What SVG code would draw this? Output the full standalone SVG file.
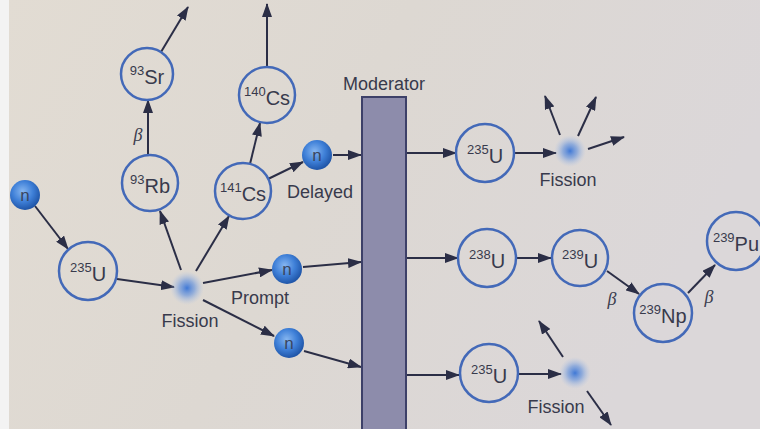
<svg xmlns="http://www.w3.org/2000/svg" width="760" height="429" viewBox="0 0 760 429">
<defs>
<linearGradient id="bg" x1="0" y1="0" x2="1" y2="0.3">
<stop offset="0" stop-color="#e2dcd3"/>
<stop offset="0.5" stop-color="#ddd8d2"/>
<stop offset="1" stop-color="#dbd7d9"/>
</linearGradient>
<radialGradient id="nGrad" cx="0.42" cy="0.38" r="0.62">
<stop offset="0" stop-color="#86b6f0"/>
<stop offset="0.55" stop-color="#3f80d8"/>
<stop offset="1" stop-color="#1f55a8"/>
</radialGradient>
<radialGradient id="fGrad" cx="0.5" cy="0.5" r="0.5">
<stop offset="0" stop-color="#3f78d6" stop-opacity="1"/>
<stop offset="0.45" stop-color="#7099dc" stop-opacity="0.7"/>
<stop offset="1" stop-color="#b0c4e6" stop-opacity="0"/>
</radialGradient>
<marker id="ah" markerWidth="14" markerHeight="10" refX="13" refY="5" orient="auto" markerUnits="userSpaceOnUse">
<path d="M0,0 L14,5 L0,10 z" fill="#2b2e46"/>
</marker>
</defs>
<style>
.nuc{fill:none;stroke:#4369b8;stroke-width:2.5}
.neu{fill:url(#nGrad)}
.fis{fill:url(#fGrad)}
.t{font-family:"Liberation Sans",Arial,sans-serif;fill:#383a4c}
.lbl{font-size:18px}
.el{font-size:20px}
.sup{font-size:13px}
.nt{font-family:"Liberation Sans",Arial,sans-serif;font-size:17px;fill:#3a4660}
.beta{font-family:"Liberation Serif","Times New Roman",serif;font-style:italic;font-size:18px;fill:#3a3c4e}
.c{stroke:#2b2e46;stroke-width:2;fill:none;marker-end:url(#ah)}
</style>
<rect x="0" y="0" width="760" height="429" fill="url(#bg)"/>
<rect x="0" y="0" width="9" height="429" fill="#f3f3f3"/>

<g id="connectors">
<line class="c" x1="35" y1="206" x2="68" y2="249"/>
<line class="c" x1="117" y1="279" x2="174" y2="287"/>
<line class="c" x1="181" y1="270" x2="160" y2="211"/>
<line class="c" x1="196" y1="271" x2="229" y2="216"/>
<line class="c" x1="203" y1="283" x2="272" y2="270"/>
<line class="c" x1="203" y1="300" x2="274" y2="336"/>
<line class="c" x1="148" y1="155" x2="148" y2="100"/>
<line class="c" x1="161" y1="52" x2="188" y2="7"/>
<line class="c" x1="250" y1="164" x2="260" y2="123"/>
<line class="c" x1="267" y1="67" x2="267" y2="4"/>
<line class="c" x1="268" y1="179" x2="303" y2="162"/>
<line class="c" x1="333" y1="155" x2="361" y2="155"/>
<line class="c" x1="303" y1="267" x2="361" y2="262"/>
<line class="c" x1="304" y1="351" x2="361" y2="367"/>
<line class="c" x1="406" y1="153" x2="456" y2="153"/>
<line class="c" x1="514" y1="153" x2="556" y2="153"/>
<line class="c" x1="560" y1="135" x2="545" y2="96"/>
<line class="c" x1="578" y1="136" x2="596" y2="97"/>
<line class="c" x1="588" y1="149" x2="624" y2="137"/>
<line class="c" x1="406" y1="258" x2="458" y2="258"/>
<line class="c" x1="516" y1="258" x2="551" y2="258"/>
<line class="c" x1="607" y1="271" x2="639" y2="294"/>
<line class="c" x1="688" y1="293" x2="715" y2="265"/>
<line class="c" x1="406" y1="375" x2="459" y2="375"/>
<line class="c" x1="518" y1="374" x2="561" y2="374"/>
<line class="c" x1="563" y1="357" x2="539" y2="321"/>
<line class="c" x1="587" y1="391" x2="611" y2="425"/>
</g>

<g id="n-in">
<circle class="neu" cx="25" cy="195" r="15"/>
<text class="nt" x="25" y="201" text-anchor="middle">n</text>
</g>
<g id="u235-a">
<circle class="nuc" cx="88" cy="271" r="29"/>
<text class="t" x="88" y="281" text-anchor="middle"><tspan class="sup" dy="-9">235</tspan><tspan class="el" dy="9">U</tspan></text>
</g>
<g id="fission-a">
<circle class="fis" cx="187" cy="288" r="17"/>
<text class="t lbl" x="190" y="327" text-anchor="middle">Fission</text>
</g>
<g id="rb93">
<circle class="nuc" cx="150" cy="183" r="28"/>
<text class="t" x="150" y="193" text-anchor="middle"><tspan class="sup" dy="-9">93</tspan><tspan class="el" dy="9">Rb</tspan></text>
</g>
<g id="beta-1"><text class="beta" x="138" y="141" text-anchor="middle">β</text></g>
<g id="sr93">
<circle class="nuc" cx="147" cy="74" r="26"/>
<text class="t" x="147" y="84" text-anchor="middle"><tspan class="sup" dy="-9">93</tspan><tspan class="el" dy="9">Sr</tspan></text>
</g>
<g id="cs141">
<circle class="nuc" cx="243" cy="191" r="28"/>
<text class="t" x="243" y="201" text-anchor="middle"><tspan class="sup" dy="-9">141</tspan><tspan class="el" dy="9">Cs</tspan></text>
</g>
<g id="cs140">
<circle class="nuc" cx="267" cy="95" r="28"/>
<text class="t" x="267" y="105" text-anchor="middle"><tspan class="sup" dy="-9">140</tspan><tspan class="el" dy="9">Cs</tspan></text>
</g>
<g id="n-delayed">
<circle class="neu" cx="317" cy="155" r="15"/>
<text class="nt" x="317" y="161" text-anchor="middle">n</text>
<text class="t lbl" x="320" y="198" text-anchor="middle">Delayed</text>
</g>
<g id="n-prompt">
<circle class="neu" cx="287" cy="269" r="15"/>
<text class="nt" x="287" y="275" text-anchor="middle">n</text>
<text class="t lbl" x="260" y="304" text-anchor="middle">Prompt</text>
</g>
<g id="n-low">
<circle class="neu" cx="289" cy="343" r="15"/>
<text class="nt" x="289" y="349" text-anchor="middle">n</text>
</g>
<g id="moderator">
<rect x="362" y="97" width="44" height="340" fill="#8d8cab" stroke="#3d4068" stroke-width="2"/>
<text class="t lbl" x="384" y="90" text-anchor="middle">Moderator</text>
</g>
<g id="u235-b">
<circle class="nuc" cx="485" cy="153" r="29"/>
<text class="t" x="485" y="163" text-anchor="middle"><tspan class="sup" dy="-9">235</tspan><tspan class="el" dy="9">U</tspan></text>
</g>
<g id="fission-b">
<circle class="fis" cx="570" cy="151" r="16"/>
<text class="t lbl" x="568" y="186" text-anchor="middle">Fission</text>
</g>
<g id="u238">
<circle class="nuc" cx="487" cy="258" r="29"/>
<text class="t" x="487" y="268" text-anchor="middle"><tspan class="sup" dy="-9">238</tspan><tspan class="el" dy="9">U</tspan></text>
</g>
<g id="u239">
<circle class="nuc" cx="580" cy="258" r="28"/>
<text class="t" x="580" y="268" text-anchor="middle"><tspan class="sup" dy="-9">239</tspan><tspan class="el" dy="9">U</tspan></text>
</g>
<g id="beta-2"><text class="beta" x="612" y="305" text-anchor="middle">β</text></g>
<g id="np239">
<circle class="nuc" cx="663" cy="313" r="29"/>
<text class="t" x="663" y="323" text-anchor="middle"><tspan class="sup" dy="-9">239</tspan><tspan class="el" dy="9">Np</tspan></text>
</g>
<g id="beta-3"><text class="beta" x="709" y="303" text-anchor="middle">β</text></g>
<g id="pu239">
<circle class="nuc" cx="736" cy="241" r="29"/>
<text class="t" x="736" y="251" text-anchor="middle"><tspan class="sup" dy="-9">239</tspan><tspan class="el" dy="9">Pu</tspan></text>
</g>
<g id="u235-c">
<circle class="nuc" cx="489" cy="373" r="29"/>
<text class="t" x="489" y="383" text-anchor="middle"><tspan class="sup" dy="-9">235</tspan><tspan class="el" dy="9">U</tspan></text>
</g>
<g id="fission-c">
<circle class="fis" cx="575" cy="373" r="16"/>
<text class="t lbl" x="556" y="413" text-anchor="middle">Fission</text>
</g>
</svg>
